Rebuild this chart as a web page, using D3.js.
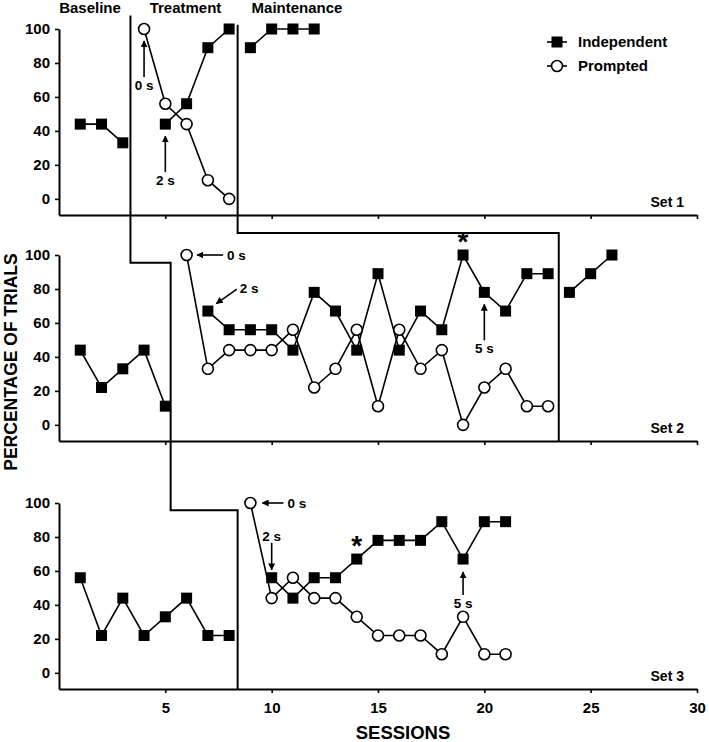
<!DOCTYPE html>
<html><head><meta charset="utf-8">
<script src="https://cdn.jsdelivr.net/npm/d3@7"></script>
<style>
body{margin:0;background:#fff}
svg{display:block}
text{font-family:"Liberation Sans",Arial,Helvetica,sans-serif;font-weight:bold;fill:#000}
</style>
</head><body><svg id="c" width="709" height="742"></svg>
<script>
// ---- labels / ticks ----
const sessionTicks = [5, 10, 15, 20, 25, 30];
const yTicks = [0, 20, 40, 60, 80, 100];
const phaseLabels = ["Baseline", "Treatment", "Maintenance"];
const setLabels = ["Set 1", "Set 2", "Set 3"];
const seriesNames = ["Independent", "Prompted"];

// ---- data: [session, percentage] ----
// Set 1
const set1IndBaseline    = [[1,44],[2,44],[3,33]];
const set1IndTreatment   = [[5,44],[6,56],[7,89],[8,100]];
const set1PromTreatment  = [[4,100],[5,56],[6,44],[7,11],[8,0]];
const set1IndMaintenance = [[9,89],[10,100],[11,100],[12,100]];
// Set 2
const set2IndBaseline    = [[1,44],[2,22],[3,33],[4,44],[5,11]];
const set2IndTreatment   = [[7,67],[8,56],[9,56],[10,56],[11,44],[12,78],[13,67],[14,44],[15,89],[16,44],[17,67],[18,56],[19,100],[20,78],[21,67],[22,89],[23,89]];
const set2PromTreatment  = [[6,100],[7,33],[8,44],[9,44],[10,44],[11,56],[12,22],[13,33],[14,56],[15,11],[16,56],[17,33],[18,44],[19,0],[20,22],[21,33],[22,11],[23,11]];
const set2IndMaintenance = [[24,78],[25,89],[26,100]];
// Set 3
const set3IndBaseline    = [[1,56],[2,22],[3,44],[4,22],[5,33],[6,44],[7,22],[8,22]];
const set3IndTreatment   = [[10,56],[11,44],[12,56],[13,56],[14,67],[15,78],[16,78],[17,78],[18,89],[19,67],[20,89],[21,89]];
const set3PromTreatment  = [[9,100],[10,44],[11,56],[12,44],[13,44],[14,33],[15,22],[16,22],[17,22],[18,11],[19,33],[20,11],[21,11]];
const set3IndMaintenance = [];

// phase-change lines (session positions where the lines cross)
const phaseChangeA = [3.36, 5.25, 8.4];   // baseline -> treatment (per set)
const phaseChangeB = [8.4, 23.5];         // treatment -> maintenance (sets 1, 2)

// annotations: [set, session, value, label, kind]
const annotations = [
  [1, 4, 100, "0 s", "up"],
  [1, 5, 44, "2 s", "up"],
  [2, 6, 100, "0 s", "left"],
  [2, 7, 67, "2 s", "diag"],
  [2, 20, 78, "5 s", "up"],
  [3, 9, 100, "0 s", "left"],
  [3, 10, 56, "2 s", "down"],
  [3, 19, 67, "5 s", "upShort"]
];
const asterisks = [[2, 19, 100], [3, 14, 67]];

// ---- layout ----
const svg = d3.select("#c");
const x = d3.scaleLinear().domain([0, 30]).range([59, 697]);
const panelPix = [[29, 215], [255, 441], [503, 689]];
const ys = panelPix.map(p => d3.scaleLinear().domain([100, -9.5]).range(p));

const sets = [
  {ind: [set1IndBaseline, set1IndTreatment, set1IndMaintenance], prom: [set1PromTreatment]},
  {ind: [set2IndBaseline, set2IndTreatment, set2IndMaintenance], prom: [set2PromTreatment]},
  {ind: [set3IndBaseline, set3IndTreatment, set3IndMaintenance], prom: [set3PromTreatment]}
];

const defs = svg.append("defs");
defs.append("marker").attr("id", "ah").attr("viewBox", "0 0 10 10")
  .attr("refX", 9).attr("refY", 5).attr("markerWidth", 7).attr("markerHeight", 7)
  .attr("markerUnits", "userSpaceOnUse").attr("orient", "auto")
  .append("path").attr("d", "M0,0 L10,5 L0,10 z").attr("fill", "#000");

// axes
sets.forEach((s, i) => {
  const y = ys[i];
  const gy = svg.append("g").attr("transform", `translate(${x(0)},0)`)
    .call(d3.axisLeft(y).tickValues(yTicks).tickSize(4).tickSizeOuter(0).tickPadding(5));
  const gx = svg.append("g").attr("transform", `translate(0,${y(-9.5)})`)
    .call(d3.axisBottom(x).tickValues(sessionTicks).tickSize(4).tickSizeOuter(0).tickPadding(9)
      .tickFormat(i === 2 ? d3.format("d") : () => ""));
  [gy, gx].forEach(g => {
    g.select(".domain").attr("stroke", "#000").attr("stroke-width", 2);
    g.selectAll(".tick line").attr("stroke", "#000").attr("stroke-width", 1.6);
    g.selectAll(".tick text").attr("font-size", 15).attr("font-family", null).attr("fill", "#000");
  });
  svg.append("text").attr("x", 684).attr("y", y(-9.5) - 8).attr("text-anchor", "end")
    .attr("font-size", 14).text(setLabels[i]);
});

// phase change lines
const pA = [
  [phaseChangeA[0], ys[0](108)], [phaseChangeA[0], ys[1](95.5)],
  [phaseChangeA[1], ys[1](95.5)], [phaseChangeA[1], ys[2](95.8)],
  [phaseChangeA[2], ys[2](95.8)], [phaseChangeA[2], ys[2](-9.5)]
];
const pB = [
  [phaseChangeB[0], ys[0](102.5)], [phaseChangeB[0], ys[1](113)],
  [phaseChangeB[1], ys[1](113)], [phaseChangeB[1], ys[1](-9.5)]
];
const pl = d3.line().x(d => x(d[0])).y(d => d[1]);
[pA, pB].forEach(p => svg.append("path").attr("d", pl(p)).attr("fill", "none")
  .attr("stroke", "#000").attr("stroke-width", 2));

// series
const SQ = 11, R = 5.5;
sets.forEach((s, i) => {
  const y = ys[i];
  const line = d3.line().x(d => x(d[0])).y(d => y(d[1]));
  const g = svg.append("g");
  s.prom.concat(s.ind).forEach(seg => {
    if (seg.length > 1) g.append("path").attr("d", line(seg)).attr("fill", "none")
      .attr("stroke", "#000").attr("stroke-width", 1.6);
  });
  s.prom.forEach(seg => g.selectAll(null).data(seg).enter().append("circle")
    .attr("cx", d => x(d[0])).attr("cy", d => y(d[1])).attr("r", R)
    .attr("fill", "#fff").attr("stroke", "#000").attr("stroke-width", 1.6));
  s.ind.forEach(seg => g.selectAll(null).data(seg).enter().append("rect")
    .attr("x", d => x(d[0]) - SQ / 2).attr("y", d => y(d[1]) - SQ / 2)
    .attr("width", SQ).attr("height", SQ).attr("fill", "#000"));
});

// annotations
annotations.forEach(([si, sess, val, lab, kind]) => {
  const px = x(sess), py = ys[si - 1](val);
  let a, t, anchor = "middle";
  if (kind === "up") { a = [px, py + 48, px, py + 12]; t = [px, py + 61]; }
  else if (kind === "upShort") { a = [px, py + 36, px, py + 13]; t = [px, py + 49]; }
  else if (kind === "down") { a = [px, py - 35, px, py - 8]; t = [px, py - 37]; }
  else if (kind === "left") { a = [px + (si === 2 ? 36.5 : 33), py, px + (si === 2 ? 10.5 : 12), py]; t = [px + (si === 2 ? 40.5 : 37), py + 5]; anchor = "start"; }
  else if (kind === "diag") { a = [px + 29, py - 22, px + 8.5, py - 7.5]; t = [px + 32, py - 18]; anchor = "start"; }
  svg.append("line").attr("x1", a[0]).attr("y1", a[1]).attr("x2", a[2]).attr("y2", a[3])
    .attr("stroke", "#000").attr("stroke-width", 1.6).attr("marker-end", "url(#ah)");
  svg.append("text").attr("x", t[0]).attr("y", t[1]).attr("text-anchor", anchor)
    .attr("font-size", 13.5).text(lab);
});
asterisks.forEach(([si, sess, val]) => {
  svg.append("text").attr("x", x(sess)).attr("y", ys[si - 1](val) + 2)
    .attr("dy", "-0.22em")
    .attr("text-anchor", "middle").attr("font-size", 28).text("*");
});

// phase headers
[[90, phaseLabels[0]], [185.5, phaseLabels[1]], [297, phaseLabels[2]]].forEach(([cx, lab]) =>
  svg.append("text").attr("x", cx).attr("y", 13).attr("text-anchor", "middle")
    .attr("font-size", 15).text(lab));

// legend
seriesNames.forEach((n, k) => {
  const ly = 42 + k * 24;
  svg.append("line").attr("x1", 547).attr("x2", 567).attr("y1", ly).attr("y2", ly)
    .attr("stroke", "#000").attr("stroke-width", 1.6);
  if (k === 0) svg.append("rect").attr("x", 557 - SQ / 2).attr("y", ly - SQ / 2)
    .attr("width", SQ).attr("height", SQ).attr("fill", "#000");
  else svg.append("circle").attr("cx", 557).attr("cy", ly).attr("r", R)
    .attr("fill", "#fff").attr("stroke", "#000").attr("stroke-width", 1.6);
  svg.append("text").attr("x", 578).attr("y", ly + 5).attr("font-size", 15).text(n);
});

// axis titles
svg.append("text").attr("transform", "translate(16.5,362) rotate(-90)")
  .attr("text-anchor", "middle").attr("font-size", 17.5).text("PERCENTAGE OF TRIALS");
svg.append("text").attr("x", 403).attr("y", 739).attr("text-anchor", "middle")
  .attr("font-size", 18.5).text("SESSIONS");
</script>
</body></html>
